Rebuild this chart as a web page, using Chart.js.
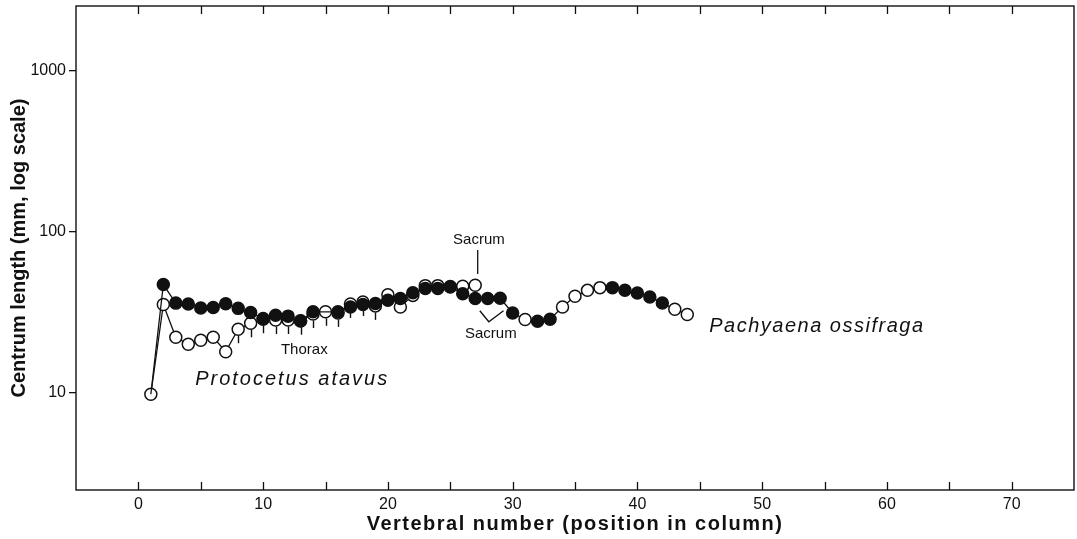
<!DOCTYPE html>
<html><head><meta charset="utf-8">
<script src="https://cdn.jsdelivr.net/npm/chart.js@4.4.1/dist/chart.umd.min.js"></script>
<style>html,body{margin:0;padding:0;background:#fff;overflow:hidden}#wrap{width:1077px;height:539px}canvas{display:block}</style>
</head><body><div id="wrap"><canvas id="c" width="1077" height="539"></canvas></div>
<script>
// ---- data ----
const protocetusVertebra = [1,2,3,4,5,6,7,8,9,10,11,12,13,14,15,16,17,18,19,20,21,22,23,24,25,26,27];
const protocetusLength = [9.8,35.3,22.1,20.0,21.2,22.1,18.0,24.8,27.0,28.6,28.3,28.3,28.0,30.8,31.8,31.3,35.6,36.6,34.6,40.6,34.1,40.2,46.2,46.2,45.6,45.8,46.4];
const pachyaenaVertebra = [1,2,3,4,5,6,7,8,9,10,11,12,13,14,15,16,17,18,19,20,21,22,23,24,25,26,27,28,29,30,31,32,33,34,35,36,37,38,39,40,41,42,43,44];
const pachyaenaLength = [9.8,46.9,36.0,35.6,33.6,33.8,35.7,33.4,31.5,28.9,30.3,29.9,27.9,31.8,null,31.8,34.1,35.3,35.8,37.5,38.5,41.8,44.3,44.3,45.3,41.2,38.5,38.5,38.6,31.3,28.5,27.8,28.6,34.1,39.7,43.2,44.9,44.9,43.2,41.6,39.3,36.1,33.0,30.6];
const pachyaenaOpenVertebrae = [1,31,34,35,36,37,43,44];
const thoraxVertebrae = [8,9,10,11,12,13,14,15,16,17,18,19];
const xTickLabels = [0,10,20,30,40,50,60,70];
const xMinorTicks = [0,5,10,15,20,25,30,35,40,45,50,55,60,65,70];
const yTickLabels = [10,100,1000];
const xTitle = 'Vertebral number (position in column)';
const yTitle = 'Centrum length (mm, log scale)';

const INK = '#111';
const FONT = '"Liberation Sans", Arial, Helvetica, sans-serif';

const protocetusPts = protocetusVertebra.map((v,i)=>({x:v,y:protocetusLength[i]}));
const pachyaenaPts = pachyaenaVertebra.map((v,i)=>({x:v,y:pachyaenaLength[i]}));

const zeroPad = (s)=>{ s.paddingTop = 0; s.paddingBottom = 0; s.paddingLeft = 0; s.paddingRight = 0; };

const decor = {
  id:'decor',
  afterDatasetsDraw(chart){
    const {ctx, chartArea:a, scales:{x,y}} = chart;
    ctx.save();
    ctx.strokeStyle = INK; ctx.fillStyle = INK;
    // frame
    ctx.lineWidth = 1.4;
    ctx.strokeRect(a.left, a.top, a.right-a.left, a.bottom-a.top);
    // inward x ticks top & bottom
    ctx.lineWidth = 1.3;
    xMinorTicks.forEach(v=>{
      const px = Math.round(x.getPixelForValue(v))+0.5;
      ctx.beginPath();
      ctx.moveTo(px, a.bottom); ctx.lineTo(px, a.bottom-8);
      ctx.moveTo(px, a.top); ctx.lineTo(px, a.top+8);
      ctx.stroke();
    });
    // thorax rib ticks under Protocetus points
    const meta = chart.getDatasetMeta(1);
    ctx.lineWidth = 1.4;
    meta.data.forEach((el,i)=>{
      if (thoraxVertebrae.includes(protocetusVertebra[i])) {
        const px = Math.round(el.x)+0.5;
        ctx.beginPath();
        ctx.moveTo(px, el.y+6.5); ctx.lineTo(px, el.y+14);
        ctx.stroke();
      }
    });
    // annotations
    ctx.textBaseline = 'alphabetic';
    ctx.font = 'italic 20px ' + FONT;
    ctx.textAlign = 'left';
    ctx.letterSpacing = '2px';
    ctx.fillText('Protocetus atavus', x.getPixelForValue(4.55), y.getPixelForValue(11.2));
    ctx.letterSpacing = '1.5px';
    ctx.fillText('Pachyaena ossifraga', x.getPixelForValue(45.76), y.getPixelForValue(23.9));
    ctx.letterSpacing = '0px';
    ctx.font = '15px ' + FONT;
    ctx.textAlign = 'center';
    ctx.fillText('Thorax', x.getPixelForValue(13.3), y.getPixelForValue(17.4));
    ctx.fillText('Sacrum', x.getPixelForValue(27.3), y.getPixelForValue(84));
    ctx.fillText('Sacrum', x.getPixelForValue(28.25), y.getPixelForValue(21.8));
    ctx.lineWidth = 1.3;
    ctx.beginPath();
    ctx.moveTo(x.getPixelForValue(27.2), y.getPixelForValue(76.9));
    ctx.lineTo(x.getPixelForValue(27.2), y.getPixelForValue(54.6));
    ctx.stroke();
    ctx.beginPath();
    ctx.moveTo(x.getPixelForValue(27.37), y.getPixelForValue(32.3));
    ctx.lineTo(x.getPixelForValue(28.09), y.getPixelForValue(27.6));
    ctx.lineTo(x.getPixelForValue(29.27), y.getPixelForValue(32.3));
    ctx.stroke();
    // axis titles
    ctx.font = 'bold 20px ' + FONT;
    ctx.textAlign = 'center'; ctx.textBaseline = 'middle';
    ctx.letterSpacing = '1.5px';
    ctx.fillText(xTitle, (a.left+a.right)/2, 524);
    ctx.letterSpacing = '0px';
    ctx.translate(19, (a.top+a.bottom)/2);
    ctx.rotate(-Math.PI/2);
    ctx.fillText(yTitle, 0, 0);
    ctx.restore();
  }
};

new Chart(document.getElementById('c'), {
  type:'line',
  data:{datasets:[
    {label:'Pachyaena ossifraga', data:pachyaenaPts, order:0, spanGaps:true,
     borderColor:INK, borderWidth:1.3, tension:0,
     pointRadius:(c)=> c.dataIndex===0 ? 0 : 6,
     pointBackgroundColor:(c)=> pachyaenaOpenVertebrae.includes(pachyaenaVertebra[c.dataIndex]) ? '#fff' : INK,
     pointBorderColor:INK, pointBorderWidth:1.5},
    {label:'Protocetus atavus', data:protocetusPts, order:1,
     borderColor:INK, borderWidth:1.3, tension:0,
     pointRadius:6, pointBackgroundColor:'#fff', pointBorderColor:INK, pointBorderWidth:1.5}
  ]},
  options:{
    responsive:false, animation:false, devicePixelRatio:1,
    layout:{autoPadding:false, padding:{top:6,right:3,left:0,bottom:0}},
    plugins:{legend:{display:false}, tooltip:{enabled:false}},
    scales:{
      x:{type:'linear', min:-5, max:75,
         afterBuildTicks:(s)=>{ s.ticks = xTickLabels.map(v=>({value:v})); },
         afterFit:(s)=>{ s.height = 49; zeroPad(s); },
         grid:{display:false, drawTicks:false}, border:{display:false},
         ticks:{color:INK, font:{family:FONT, size:16}, padding:5, maxRotation:0, autoSkip:false}},
      y:{type:'logarithmic', min:2.5, max:2500,
         afterBuildTicks:(s)=>{ s.ticks = yTickLabels.map(v=>({value:v})); },
         afterFit:(s)=>{ s.width = 76; zeroPad(s); },
         grid:{display:true, drawOnChartArea:false, drawTicks:true, tickLength:7, color:INK, lineWidth:1.3},
         border:{display:false},
         ticks:{color:INK, font:{family:FONT, size:16}, padding:3, callback:(v)=>String(v)}}
    }
  },
  plugins:[decor]
});
</script></body></html>
